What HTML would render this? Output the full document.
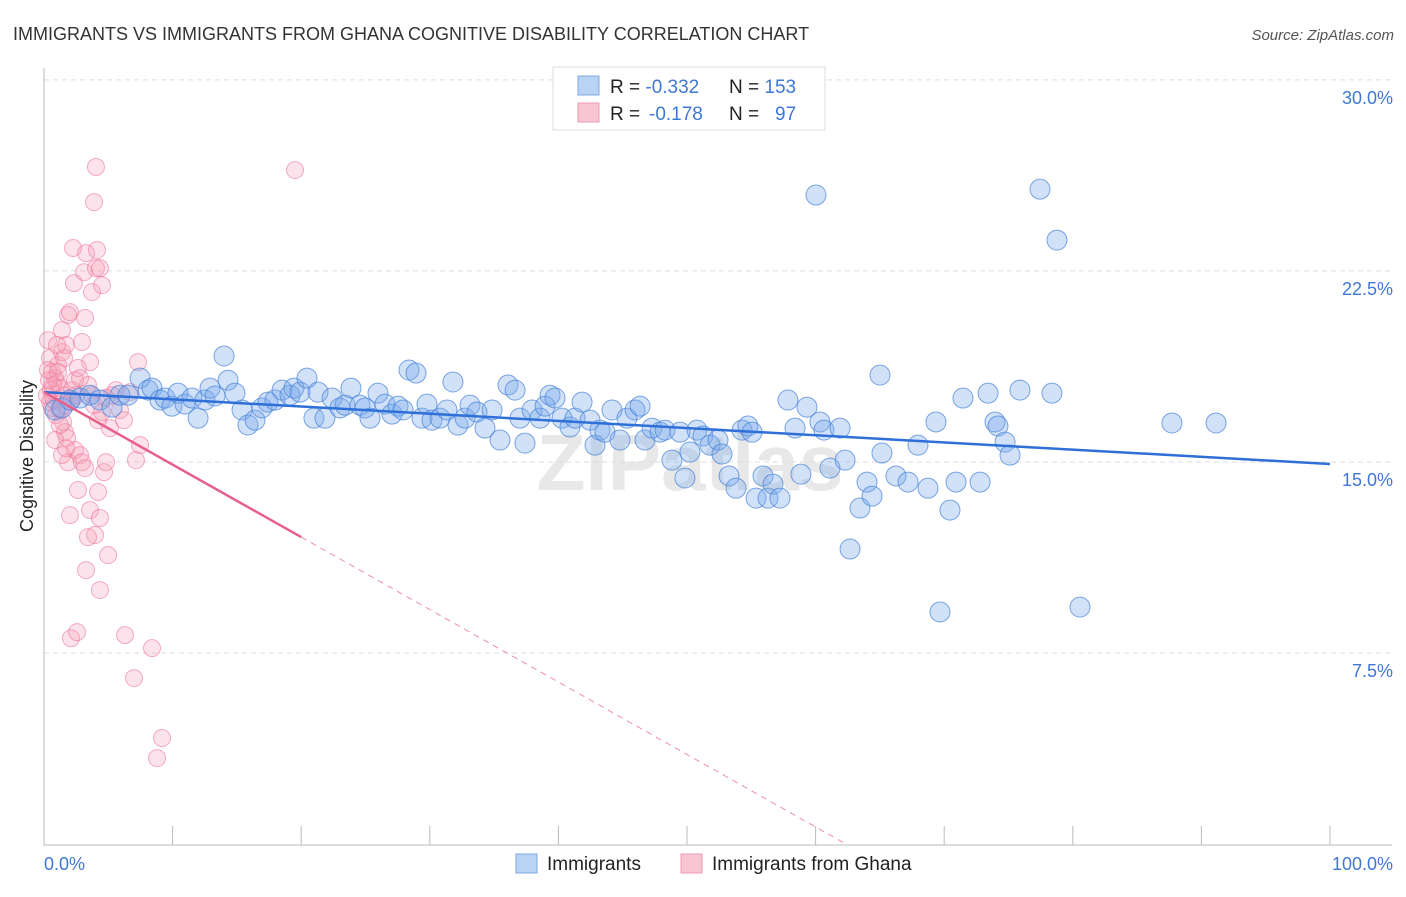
<!DOCTYPE html>
<html><head><meta charset="utf-8">
<style>
body{margin:0;background:#fff;font-family:"Liberation Sans",sans-serif;}
svg text{font-family:"Liberation Sans",sans-serif;}
</style></head>
<body>
<svg id="chart" width="1406" height="892" viewBox="0 0 1406 892" xmlns="http://www.w3.org/2000/svg">
<text x="13" y="40" font-size="18" fill="#333">IMMIGRANTS VS IMMIGRANTS FROM GHANA COGNITIVE DISABILITY CORRELATION CHART</text>
<text x="1394" y="40" font-size="15" fill="#555" font-style="italic" text-anchor="end">Source: ZipAtlas.com</text>
<text x="33" y="456" font-size="18" fill="#222" text-anchor="middle" transform="rotate(-90 33 456)">Cognitive Disability</text>
<text x="690" y="490" font-size="80" fill="#e8e8e8" text-anchor="middle" font-weight="bold">ZIPatlas</text>
<g id="grid"></g>
<g id="axes"></g>
<g id="pts"></g>
<g id="trends"></g>
<g>
<rect x="553" y="67" width="272" height="63" fill="#fff" stroke="#ddd"/>
<rect x="578" y="76" width="21" height="19" fill="#b9d3f5" stroke="#7fa8e0"/>
<rect x="578" y="103" width="21" height="19" fill="#f8c5d4" stroke="#ec9ab3"/>
<text x="610" y="93" font-size="19" fill="#222">R = <tspan fill="#3f78d4">-0.332</tspan><tspan x="729">N = </tspan><tspan fill="#3f78d4">153</tspan></text>
<text x="610" y="120" font-size="19" fill="#222">R = <tspan fill="#3f78d4" x="649">-0.178</tspan><tspan x="729">N = </tspan><tspan fill="#3f78d4" x="775">97</tspan></text>
</g>
<g>
<rect x="516" y="854" width="21" height="19" fill="#b9d3f5" stroke="#7fa8e0"/>
<text x="547" y="870" font-size="19" fill="#222">Immigrants</text>
<rect x="681" y="854" width="21" height="19" fill="#f8c5d4" stroke="#ec9ab3"/>
<text x="712" y="870" font-size="19" fill="#222">Immigrants from Ghana</text>
</g>
</svg>
<script>
const yTicks=[7.5,15,22.5,30];
const yTickLabels=["7.5%","15.0%","22.5%","30.0%"];
const xTicks=[0,10,20,30,40,50,60,70,80,90,100];
const xEndLabels=["0.0%","100.0%"];
const blueX=[0.86,1.4,2.02,2.8,3.58,4.35,5.29,5.91,6.53,7.47,8.09,8.4,9.02,9.41,9.95,10.42,10.96,11.51,11.98,12.52,12.91,13.3,14.0,14.31,14.85,15.4,15.86,16.41,16.95,17.42,17.96,18.51,19.13,19.44,19.91,20.45,20.99,21.31,21.85,22.4,23.02,23.41,23.87,24.57,24.96,25.35,25.97,26.52,27.06,27.53,27.92,28.38,28.93,29.39,29.78,30.17,30.79,31.34,31.8,32.19,32.74,33.13,33.67,34.29,34.84,35.46,36.08,36.63,37.01,37.4,37.95,38.57,38.96,39.35,39.74,40.28,40.9,41.29,41.84,42.46,42.85,43.23,43.62,44.17,44.79,45.33,45.96,46.35,46.73,47.28,47.9,48.29,48.83,49.46,49.84,50.23,50.78,51.24,51.79,52.41,52.72,53.27,53.81,54.28,54.74,55.06,55.37,55.91,56.3,56.69,57.23,57.85,58.4,58.86,59.33,60.03,60.34,60.65,61.12,61.9,62.29,62.68,63.45,64.0,64.39,65.01,65.16,66.25,67.19,67.96,68.74,69.36,69.67,70.45,70.92,71.46,72.79,73.41,73.95,74.18,74.73,75.12,75.89,77.45,78.38,78.77,80.56,87.71,91.14];
const blueY=[17.04,17.12,17.43,17.51,17.62,17.43,17.15,17.62,17.62,18.29,17.82,17.9,17.43,17.51,17.19,17.7,17.27,17.51,16.72,17.43,17.9,17.59,19.16,18.21,17.7,17.04,16.45,16.64,17.12,17.35,17.43,17.82,17.62,17.9,17.74,18.29,16.72,17.74,16.72,17.51,17.12,17.23,17.9,17.23,17.12,16.72,17.7,17.27,16.88,17.19,17.04,18.61,18.49,16.72,17.27,16.64,16.72,17.04,18.14,16.45,16.72,17.23,16.96,16.33,17.04,15.86,18.02,17.82,16.72,15.74,17.04,16.72,17.19,17.62,17.51,16.72,16.37,16.72,17.35,16.64,15.66,16.25,16.17,17.04,15.86,16.72,17.04,17.19,15.86,16.33,16.17,16.25,15.07,16.17,14.37,15.39,16.25,16.02,15.66,15.86,15.31,14.45,13.97,16.25,16.41,16.17,13.58,14.45,13.58,14.13,13.58,17.43,16.33,14.52,17.15,25.48,16.57,16.25,14.76,16.33,15.07,11.58,13.19,14.21,13.66,18.41,15.35,14.45,14.21,15.66,13.97,16.57,9.11,13.11,14.21,17.51,14.21,17.7,16.57,16.41,15.78,15.27,17.82,25.71,17.7,23.71,9.3,16.53,16.53];
const pinkX=[0.31,0.47,0.62,0.86,1.01,1.24,0.23,0.47,0.62,0.93,0.7,1.09,1.4,1.56,1.71,1.24,1.48,1.63,1.79,2.02,2.18,2.41,1.87,2.02,2.26,2.33,2.95,3.19,3.42,3.58,3.73,3.89,3.11,3.27,3.73,3.89,4.04,4.04,4.35,4.51,4.12,1.87,2.41,2.8,2.95,2.64,3.19,3.58,3.97,3.42,4.2,4.35,4.67,4.82,4.98,3.27,4.35,2.02,2.1,2.57,6.3,7.0,8.4,9.18,8.79,7.31,7.47,7.15,6.69,5.13,5.29,5.6,5.91,6.22,1.24,0.86,1.4,1.71,2.64,2.8,1.4,1.01,4.2,4.51,4.82,19.52,0.31,0.54,0.78,1.09,1.56,1.71,2.18,2.49,0.39];
const pinkY=[19.78,19.08,18.53,18.29,18.1,17.9,17.62,17.35,17.12,16.84,18.02,18.8,19.31,19.08,19.59,17.04,16.57,16.17,15.94,17.35,17.82,18.21,20.77,20.88,23.4,22.02,19.71,20.65,18.02,18.92,17.62,17.23,22.45,23.2,21.67,25.2,26.58,22.61,22.61,21.94,23.32,14.99,15.47,15.27,14.99,13.9,14.76,13.11,12.13,12.05,13.82,12.8,14.6,14.99,11.34,10.75,9.97,12.91,8.08,8.32,8.2,6.51,7.69,4.16,3.37,18.92,15.66,15.07,17.74,16.33,17.62,17.82,17.04,16.64,16.45,15.86,15.27,15.54,18.69,18.29,20.18,19.59,16.64,16.96,17.51,26.46,18.61,17.82,17.43,18.53,17.62,17.23,17.43,17.62,18.21];
const blueTrend=[17.74,14.92];   // value at x=0 and x=100
const pinkTrend=[17.74,-0.2845]; // intercept, slope per %
const pinkSolidEnd=20;

const NS="http://www.w3.org/2000/svg";
const X0=44,X1=1330,Y0=844,PXY=25.47;
function xs(v){return X0+(X1-X0)*v/100;}
function ys(v){return Y0-v*PXY;}
function mk(tag,attrs,parent){const e=document.createElementNS(NS,tag);for(const k in attrs)e.setAttribute(k,attrs[k]);parent.appendChild(e);return e;}
const grid=document.getElementById('grid'),axes=document.getElementById('axes'),pts=document.getElementById('pts'),tr=document.getElementById('trends');
yTicks.forEach((t,i)=>{
  const l=mk('line',{x1:X0,x2:1392,y1:ys(t),y2:ys(t),stroke:'#ddd','stroke-dasharray':'5,4'},grid);
  
  
  const tx=mk('text',{x:1393,y:ys(t)+24,'font-size':18,fill:'#3f78d4','text-anchor':'end'},grid);
  tx.textContent=yTickLabels[i];
  
  
});
let a=mk('line',{x1:X0,x2:X0,y1:68,y2:Y0+1,stroke:'#bbb'},axes);


a=mk('line',{x1:X0,x2:1392,y1:Y0+1,y2:Y0+1,stroke:'#bbb'},axes);


xTicks.forEach(t=>{
  const l=mk('line',{x1:xs(t),x2:xs(t),y1:826,y2:Y0+1,stroke:'#bbb'},axes);
  
  
});
let t0=mk('text',{x:44,y:870,'font-size':18,fill:'#3f78d4'},axes);t0.textContent=xEndLabels[0];


let t1=mk('text',{x:1393,y:870,'font-size':18,fill:'#3f78d4','text-anchor':'end'},axes);t1.textContent=xEndLabels[1];


pinkX.forEach((x,i)=>{
  const c=mk('circle',{cx:xs(x),cy:ys(pinkY[i]),r:8.5,fill:'rgba(244,160,185,0.3)',stroke:'rgba(236,120,155,0.6)','stroke-width':1},pts);
  
  
});
blueX.forEach((x,i)=>{
  const c=mk('circle',{cx:xs(x),cy:ys(blueY[i]),r:10,fill:'rgba(120,170,235,0.35)',stroke:'rgba(70,130,215,0.7)','stroke-width':1},pts);
  
  
});
let bl=mk('line',{x1:xs(0),y1:ys(blueTrend[0]),x2:xs(100),y2:ys(blueTrend[1]),stroke:'#2e6fd8','stroke-width':2.5},tr);


const pe=pinkTrend[0]+pinkTrend[1]*pinkSolidEnd;
let pl=mk('line',{x1:xs(0),y1:ys(pinkTrend[0]),x2:xs(pinkSolidEnd),y2:ys(pe),stroke:'#e8608a','stroke-width':2.5},tr);


const xz=-pinkTrend[0]/pinkTrend[1];
let pd=mk('line',{x1:xs(pinkSolidEnd),y1:ys(pe),x2:xs(xz),y2:ys(0),stroke:'#e8608a','stroke-width':1,'stroke-dasharray':'6,5',opacity:0.7},tr);


</script>
</body></html>
